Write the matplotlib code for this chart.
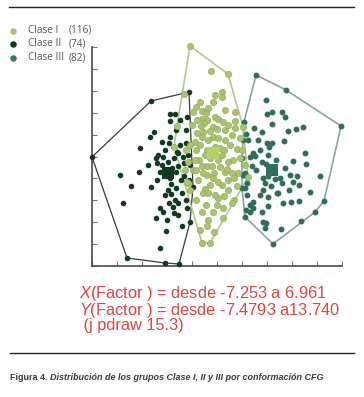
import matplotlib
matplotlib.use("Agg")
import matplotlib.pyplot as plt
from matplotlib import font_manager
import numpy as np

# scores (arbitrary factor units, x 0-250, y 0-219)
clase1_x = [98, 136, 119, 130, 123, 130, 92, 104, 110, 116, 114, 110, 115, 123, 126, 112, 143, 151,
            121, 125, 133, 143, 118, 111, 105, 110, 121, 126, 116, 133, 103, 98, 123, 128, 145, 150,
            132, 115, 107, 110, 115, 115, 122, 111, 121, 126, 133, 135, 140, 142, 136, 130, 146, 156,
            113, 116, 111, 126, 142, 140, 96, 110, 121, 131, 116, 115, 110, 118, 82, 85, 95, 98, 104,
            131, 148, 153, 145, 136, 121, 118, 126, 130, 113, 104, 108, 138, 140, 136, 131, 105, 100,
            101, 121, 108, 96, 101, 106, 118, 123, 132, 136, 141, 128, 120, 103, 93, 94, 143, 133,
            148, 109, 125, 114, 108, 122, 104]
clase1_y = [220, 192, 195, 174, 171, 169, 172, 159, 155, 158, 153, 147, 146, 149, 147, 143, 145, 139,
            139, 137, 136, 138, 135, 134, 133, 129, 129, 128, 126, 126, 124, 121, 119, 118, 117, 116,
            116, 116, 106, 100, 100, 91, 93, 93, 88, 84, 94, 97, 93, 88, 86, 81, 93, 89,
            77, 73, 73, 68, 66, 63, 83, 54, 54, 48, 46, 40, 23, 23, 119, 140, 84, 76, 66,
            58, 108, 101, 80, 76, 113, 108, 106, 111, 111, 116, 121, 121, 131, 141, 144, 146, 141,
            154, 164, 164, 104, 96, 86, 81, 71, 70, 104, 106, 99, 100, 106, 96, 116, 154, 156,
            128, 140, 61, 61, 36, 34, 96]

clase2_x = [0, 59, 97, 78, 83, 78, 88, 95, 62, 58, 78, 77, 48, 73, 85, 88, 66, 71, 64, 86, 91, 96,
            28, 47, 39, 59, 31, 73, 79, 79, 77, 86, 71, 82, 64, 74, 68, 35, 73, 87, 101, 97, 92, 86,
            83, 95, 98, 90, 70, 76, 80, 68, 74, 84, 89, 78, 65, 92, 82, 76, 84, 90, 94, 81, 75, 68,
            86, 94, 84, 70, 94, 65, 56, 98]
clase2_y = [109, 165, 174, 152, 152, 145, 146, 149, 134, 129, 129, 123, 118, 116, 114, 121, 111, 109,
            108, 113, 109, 111, 91, 94, 80, 79, 63, 71, 72, 82, 63, 63, 54, 53, 48, 35, 18, 8, 3, 2,
            79, 86, 90, 100, 66, 58, 44, 40, 101, 104, 98, 94, 90, 94, 86, 88, 103, 103, 108, 76,
            78, 73, 66, 59, 46, 58, 51, 136, 136, 124, 123, 86, 101, 101]

clase3_x = [164, 194, 249, 232, 223, 209, 181, 153, 152, 174, 175, 180, 190, 193, 180, 196, 204, 211,
            162, 192, 175, 180, 177, 176, 161, 158, 213, 201, 214, 170, 174, 160, 153, 171, 176, 183,
            188, 190, 198, 205, 228, 207, 201, 173, 171, 153, 185, 176, 155, 161, 191, 199, 207, 176,
            161, 158, 170, 174, 171, 173, 189, 186, 154, 156, 151, 150, 163, 164, 151, 155, 150, 158,
            154, 168, 166, 170, 184, 193, 179, 168, 197, 218]
clase3_y = [191, 176, 140, 65, 54, 45, 22, 49, 144, 166, 152, 154, 154, 149, 142, 135, 137, 139,
            138, 125, 123, 123, 119, 111, 113, 109, 113, 105, 102, 104, 102, 100, 93, 88, 90, 87,
            88, 83, 91, 90, 90, 81, 84, 83, 76, 78, 73, 69, 71, 64, 63, 64, 65, 60,
            58, 54, 54, 43, 44, 38, 37, 73, 132, 126, 126, 108, 110, 96, 91, 83, 78, 61,
            56, 116, 126, 134, 106, 98, 80, 71, 76, 74]

centro_x = [121, 76, 180]
centro_y = [113, 93, 96]

etiquetas = ["Clase I", "Clase II", "Clase III"]
conteos = ["(116)", "(74)", "(82)"]

c_claro = "#a9c46c"
c_oscuro = "#0d3d20"
c_teal = "#2f6e5a"


def hull(xs, ys):
    pts = sorted(set(zip(xs, ys)))
    def cross(o, a, b):
        return (a[0] - o[0]) * (b[1] - o[1]) - (a[1] - o[1]) * (b[0] - o[0])
    lower, upper = [], []
    for p in pts:
        while len(lower) >= 2 and cross(lower[-2], lower[-1], p) <= 0:
            lower.pop()
        lower.append(p)
    for p in reversed(pts):
        while len(upper) >= 2 and cross(upper[-2], upper[-1], p) <= 0:
            upper.pop()
        upper.append(p)
    h = lower[:-1] + upper
    return [p[0] for p in h], [p[1] for p in h]


names = {f.name for f in font_manager.fontManager.ttflist}
narrow = "Liberation Sans Narrow" if "Liberation Sans Narrow" in names else "Liberation Sans"
plt.rcParams["mathtext.fontset"] = "custom"
plt.rcParams["mathtext.it"] = "Liberation Sans:italic"
plt.rcParams["mathtext.rm"] = "Liberation Sans"

W, H = 364, 397
fig = plt.figure(figsize=(W / 100, H / 100), dpi=100)
bg = fig.add_axes([0, 0, 1, 1])
bg.set_xlim(0, W)
bg.set_ylim(H, 0)
bg.axis("off")

ax = fig.add_axes([92 / W, (H - 266) / H, 250 / W, 219 / H])
ax.set_xlim(0, 250)
ax.set_ylim(0, 219)
ax.set_xticks(np.arange(0, 251, 25))
ax.set_yticks(np.arange(0, 220, 21.9))
ax.set_xticklabels([])
ax.set_yticklabels([])
for s in ["top", "right"]:
    ax.spines[s].set_visible(False)
for s in ["left", "bottom"]:
    ax.spines[s].set_color("#4a4a4a")
    ax.spines[s].set_linewidth(1.2)
ax.tick_params(direction="in", length=3.5, width=0.8, color="#777777")
ax.patch.set_alpha(0)

# hulls
hx, hy = hull(clase2_x, clase2_y)
ax.plot(hx, hy, color="#3a3a3a", lw=0.9, zorder=1, clip_on=False)
hx, hy = hull(clase3_x, clase3_y)
ax.plot(hx, hy, color="#8aa2a8", lw=1.2, zorder=1, clip_on=False)
hx, hy = hull(clase1_x, clase1_y)
ax.plot(hx, hy, color="#b8c78c", lw=1.2, zorder=1, clip_on=False)

ax.scatter(clase2_x, clase2_y, s=16, color=c_oscuro, lw=0, zorder=3, clip_on=False)
ax.scatter(clase3_x, clase3_y, s=18, color=c_teal, lw=0, zorder=3, clip_on=False)
ax.scatter(clase1_x, clase1_y, s=20, color=c_claro, edgecolor="#8fae58", lw=0.5, zorder=4, clip_on=False)
ax.scatter(centro_x[1], centro_y[1], s=70, marker="s", color=c_oscuro, lw=0, zorder=5)
ax.scatter(centro_x[2], centro_y[2], s=70, marker="s", color=c_teal, lw=0, zorder=5)
ax.scatter(centro_x[0], centro_y[0], s=80, marker="s", color="#b5cf6a", lw=0, zorder=6)

# legend
ley_col = ["#a9c46c", "#0f3b1f", "#3e7a66"]
for i in range(3):
    yy = 30.5 + i * 13.5
    bg.scatter(12.7, yy, s=22, color=ley_col[i], lw=0)
    bg.text(28, yy, etiquetas[i], fontsize=7.2, family="Open Sans", color="#555555", va="center")
    bg.text(69, yy, conteos[i], fontsize=7.2, family="Open Sans", color="#555555", va="center")

# red annotation
rojo = "#e2433b"
bg.text(79, 308.5, "$X$(Factor ) = desde -7.253 a 6.961\n"
        "$Y$(Factor ) = desde -7.4793 a13.740\n"
        " (j pdraw 15.3)", fontsize=11.8, color=rojo, family="Liberation Sans",
        va="center", linespacing=0.88)

# rules and caption
bg.plot([9, 354], [6.5, 6.5], color="#222222", lw=1)
bg.plot([10, 354], [352.5, 352.5], color="#222222", lw=1)
t1 = bg.text(10, 378, "Figura 4. ", fontsize=6.5, family=narrow, weight="bold", color="#3a3a3a", va="center")
bg.annotate("Distribución de los grupos Clase I, II y III por conformación CFG", xy=(1, 0.5),
            xycoords=t1, va="center", fontsize=6.5, family=narrow, weight="bold", style="italic",
            color="#3a3a3a")

fig.savefig("out.png", dpi=100)
